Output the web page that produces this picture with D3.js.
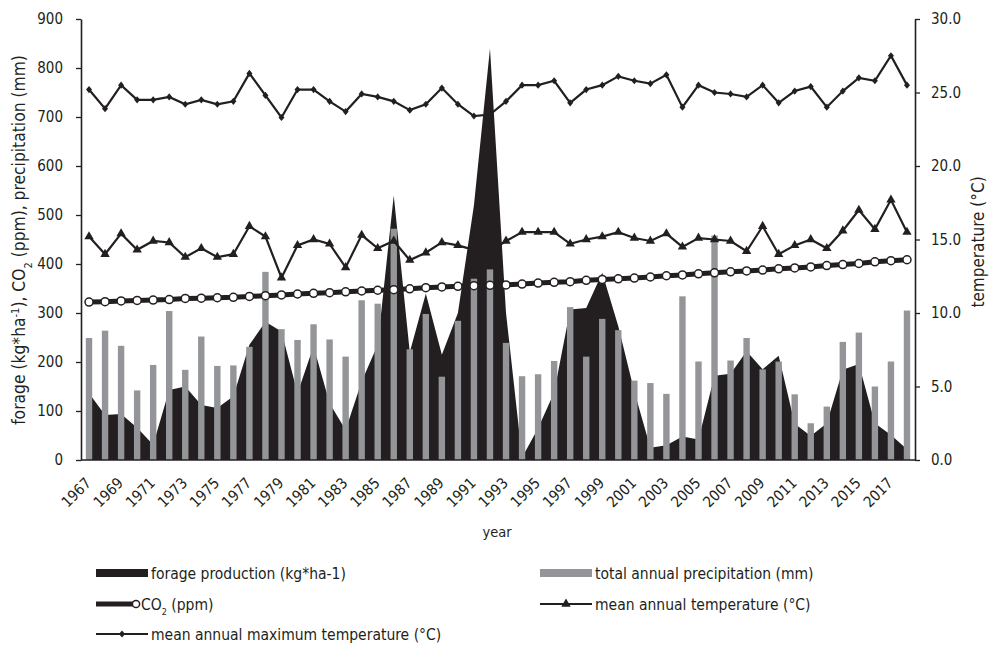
<!DOCTYPE html>
<html>
<head>
<meta charset="utf-8">
<script src="https://cdn.jsdelivr.net/npm/d3@7"></script>
<style>
body { margin: 0; background: #fff; }
text { font-family: "Liberation Sans Narrow", "DejaVu Sans Condensed", sans-serif; fill: #231f20; }
</style>
</head>
<body>
<div id="chart"></div>
<script>
(function () {

// categories
const years = d3.range(1967, 2019);
const yearLabels = years.filter((d, i) => i % 2 === 0);

// forage production (kg*ha-1)
const forage = [136, 92, 94, 66, 31, 143, 150, 112, 106, 130,
  235, 282, 262, 136, 232, 116, 61, 160, 235, 540,
  220, 340, 215, 300, 520, 840, 300, 5, 65, 138,
  307, 310, 382, 273, 140, 25, 30, 48, 42, 172,
  176, 222, 185, 213, 74, 49, 75, 184, 196, 75,
  51, 22];

// total annual precipitation (mm)
const precip = [249, 264, 233, 142, 194, 304, 184, 252, 192, 193,
  231, 384, 267, 245, 277, 246, 211, 326, 319, 472,
  226, 298, 170, 284, 370, 389, 239, 171, 175, 202,
  312, 211, 288, 265, 162, 157, 135, 334, 201, 458,
  203, 249, 185, 201, 134, 75, 109, 241, 260, 150,
  201, 305];

// CO2 (ppm)
const co2 = [322.2, 323.1, 324.6, 325.7, 326.3, 327.5, 329.7, 330.2, 331.1, 332.0,
  333.8, 335.4, 336.8, 338.8, 340.1, 341.5, 343.2, 344.9, 346.4, 347.6,
  349.3, 351.7, 353.2, 354.5, 355.7, 356.5, 357.2, 359.0, 361.0, 362.7,
  363.9, 366.8, 368.5, 369.7, 371.3, 373.5, 376.0, 377.7, 380.0, 382.1,
  384.0, 385.8, 387.6, 390.1, 391.9, 394.1, 396.7, 398.8, 401.0, 404.4,
  406.8, 408.7];

// mean annual temperature (°C)
const tmean = [15.2, 14.0, 15.4, 14.3, 14.9, 14.8, 13.8, 14.4, 13.8, 14.0,
  15.9, 15.2, 12.4, 14.6, 15.0, 14.7, 13.1, 15.3, 14.4, 14.9,
  13.6, 14.1, 14.8, 14.6, 14.3, 14.2, 14.9, 15.5, 15.5, 15.5,
  14.7, 15.0, 15.2, 15.5, 15.1, 14.9, 15.4, 14.5, 15.1, 15.0,
  14.9, 14.2, 15.9, 14.0, 14.6, 15.0, 14.4, 15.6, 17.0, 15.7,
  17.7, 15.5];

// mean annual maximum temperature (°C)
const tmax = [25.2, 23.9, 25.5, 24.5, 24.5, 24.7, 24.2, 24.5, 24.2, 24.4,
  26.3, 24.8, 23.3, 25.2, 25.2, 24.4, 23.7, 24.9, 24.7, 24.4,
  23.8, 24.2, 25.3, 24.2, 23.4, 23.5, 24.4, 25.5, 25.5, 25.8,
  24.3, 25.2, 25.5, 26.1, 25.8, 25.6, 26.2, 24.0, 25.5, 25.0,
  24.9, 24.7, 25.5, 24.3, 25.1, 25.4, 24.0, 25.1, 26.0, 25.8,
  27.5, 25.5];

const leftTicks = d3.range(0, 901, 100);
const rightTicks = d3.range(0, 30.1, 5);

const ink = "#231f20", grey = "#939598";

const margin = {top: 19, right: 76, bottom: 188, left: 81};
const width = 991 - margin.left - margin.right,
  height = 648 - margin.top - margin.bottom;

const root = d3.select("#chart").append("svg")
    .attr("width", 991)
    .attr("height", 648);
const svg = root.append("g")
    .attr("transform", "translate(" + margin.left + "," + margin.top + ")");

const x = d3.scaleBand().domain(years).range([0, width]);
const y = d3.scaleLinear([0, 900], [height, 0]);
const y2 = d3.scaleLinear([0, 30], [height, 0]);
const cx = d => x(d) + x.bandwidth() / 2;

const rows = years.map((yr, i) => ({yr, forage: forage[i], precip: precip[i], co2: co2[i], tmean: tmean[i], tmax: tmax[i]}));

// forage area
svg.append("path")
  .datum(rows)
  .attr("d", d3.area().x(d => cx(d.yr)).y0(height).y1(d => y(d.forage)))
  .attr("fill", ink);

// precipitation bars
svg.selectAll("rect.precip")
  .data(rows)
  .join("rect")
  .attr("class", "precip")
  .attr("x", d => cx(d.yr) - 3.2)
  .attr("width", 6.4)
  .attr("y", d => y(d.precip))
  .attr("height", d => height - y(d.precip))
  .attr("fill", grey);

// axes
const yAxis = svg.append("g")
  .call(d3.axisLeft(y).tickValues(leftTicks).tickSize(5).tickSizeOuter(0).tickPadding(13));
const yAxis2 = svg.append("g")
  .attr("transform", "translate(" + width + ",0)")
  .call(d3.axisRight(y2).tickValues(rightTicks).tickSize(5).tickSizeOuter(0).tickPadding(11)
    .tickFormat(d3.format(".1f")));
[yAxis, yAxis2].forEach(g => {
  g.select(".domain").attr("stroke", ink).attr("stroke-width", 1.6);
  g.selectAll(".tick line").attr("stroke", ink).attr("stroke-width", 1.3);
  g.selectAll(".tick text").attr("font-size", 15).attr("font-family", null).attr("fill", ink);
});

svg.append("line")
  .attr("x1", 0).attr("x2", width)
  .attr("y1", height).attr("y2", height)
  .attr("stroke", ink).attr("stroke-width", 1.6);

svg.selectAll("text.xlab")
  .data(yearLabels)
  .join("text")
  .attr("class", "xlab")
  .attr("transform", d => "translate(" + (cx(d) + 3) + "," + (height + 24) + ") rotate(-45)")
  .attr("text-anchor", "end")
  .attr("font-size", 15)
  .text(d => d);

// CO2 line
svg.append("path")
  .datum(rows)
  .attr("d", d3.line().x(d => cx(d.yr)).y(d => y(d.co2)))
  .attr("fill", "none").attr("stroke", ink).attr("stroke-width", 5);
svg.selectAll("circle.co2")
  .data(rows)
  .join("circle")
  .attr("class", "co2")
  .attr("cx", d => cx(d.yr)).attr("cy", d => y(d.co2)).attr("r", 4)
  .attr("fill", "#fff").attr("stroke", ink).attr("stroke-width", 1.5);

// temperature lines
const tri = d3.symbol(d3.symbolTriangle, 38);
const diamond = "M0,-3.6L3,0L0,3.6L-3,0Z";

svg.append("path")
  .datum(rows)
  .attr("d", d3.line().x(d => cx(d.yr)).y(d => y2(d.tmean)))
  .attr("fill", "none").attr("stroke", ink).attr("stroke-width", 2.2);
svg.selectAll("path.tri")
  .data(rows)
  .join("path")
  .attr("class", "tri")
  .attr("transform", d => "translate(" + cx(d.yr) + "," + y2(d.tmean) + ")")
  .attr("d", tri)
  .attr("fill", ink);

svg.append("path")
  .datum(rows)
  .attr("d", d3.line().x(d => cx(d.yr)).y(d => y2(d.tmax)))
  .attr("fill", "none").attr("stroke", ink).attr("stroke-width", 2.2);
svg.selectAll("path.dia")
  .data(rows)
  .join("path")
  .attr("class", "dia")
  .attr("transform", d => "translate(" + cx(d.yr) + "," + y2(d.tmax) + ")")
  .attr("d", diamond)
  .attr("fill", ink);

// axis titles
root.append("text")
  .attr("transform", "translate(497,537)")
  .attr("text-anchor", "middle")
  .attr("font-size", 14.5)
  .text("year");

const lt = root.append("text")
  .attr("transform", "translate(25,240) rotate(-90)")
  .attr("text-anchor", "middle")
  .attr("font-size", 17.3);
lt.append("tspan").text("forage (kg*ha");
lt.append("tspan").attr("baseline-shift", "super").attr("font-size", 11).text("-1");
lt.append("tspan").text("), CO");
lt.append("tspan").attr("baseline-shift", "sub").attr("font-size", 11).text("2");
lt.append("tspan").text(" (ppm), precipitation (mm)");

root.append("text")
  .attr("transform", "translate(984,242) rotate(-90)")
  .attr("text-anchor", "middle")
  .attr("font-size", 17)
  .text("temperature (°C)");

// legend
const lg = root.append("g");
lg.append("rect").attr("x", 96).attr("y", 569).attr("width", 52).attr("height", 8).attr("fill", ink);
lg.append("rect").attr("x", 540).attr("y", 569).attr("width", 52).attr("height", 8).attr("fill", grey);

lg.append("line").attr("x1", 96).attr("x2", 134).attr("y1", 604).attr("y2", 604)
  .attr("stroke", ink).attr("stroke-width", 5);
lg.append("circle").attr("cx", 136).attr("cy", 604).attr("r", 3.6)
  .attr("fill", "#fff").attr("stroke", ink).attr("stroke-width", 1.5);

lg.append("line").attr("x1", 540).attr("x2", 592).attr("y1", 604).attr("y2", 604)
  .attr("stroke", ink).attr("stroke-width", 2);
lg.append("path").attr("transform", "translate(566,604)").attr("d", tri).attr("fill", ink);

lg.append("line").attr("x1", 96).attr("x2", 148).attr("y1", 634).attr("y2", 634)
  .attr("stroke", ink).attr("stroke-width", 2);
lg.append("path").attr("transform", "translate(122,634)").attr("d", diamond).attr("fill", ink);

const legendText = [
  {x: 151, y: 579, t: "forage production (kg*ha-1)"},
  {x: 595, y: 579, t: "total annual precipitation (mm)"},
  {x: 595, y: 610, t: "mean annual temperature (°C)"},
  {x: 151, y: 640, t: "mean annual maximum temperature (°C)"}
];
lg.selectAll("text.lt")
  .data(legendText)
  .join("text")
  .attr("x", d => d.x).attr("y", d => d.y)
  .attr("font-size", 15.5)
  .text(d => d.t);

const co2t = lg.append("text").attr("x", 141).attr("y", 610).attr("font-size", 15.5);
co2t.append("tspan").text("CO");
co2t.append("tspan").attr("baseline-shift", "sub").attr("font-size", 9).text("2");
co2t.append("tspan").text(" (ppm)");

})()
</script>
</body>
</html>
